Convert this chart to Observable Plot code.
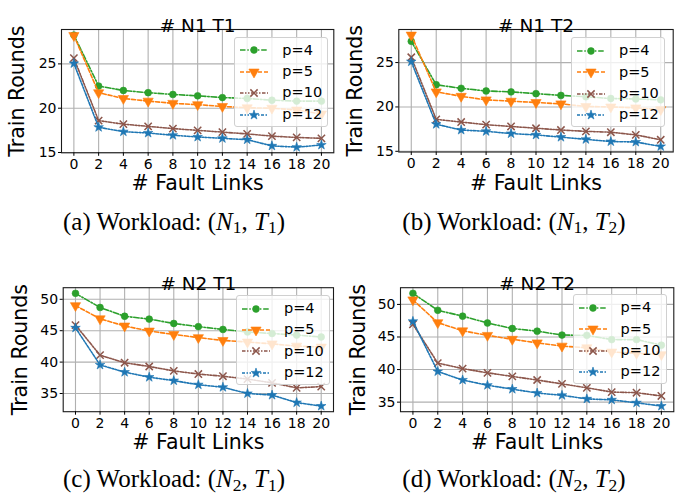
<!DOCTYPE html>
<html>
<head>
<meta charset="utf-8">
<script src="https://cdn.jsdelivr.net/npm/d3@7"></script>
<script src="https://cdn.jsdelivr.net/npm/@observablehq/plot@0.6"></script>
<style>
  html, body { margin: 0; padding: 0; background: #fff; }
  #root { position: relative; width: 681px; height: 494px; overflow: hidden; background: #fff; }
  .panel { position: absolute; }
  .panel svg { overflow: visible; }
  .legend {
    position: absolute; box-sizing: border-box; width: 94px; height: 90px;
    background: rgba(255,255,255,0.8); border: 1px solid #d0d0d0; border-radius: 3px;
    font-family: "DejaVu Sans", sans-serif; font-size: 14.5px; color: #000;
    padding-top: 2px;
  }
  .legend .row { position: relative; height: 21.4px; }
  .legend .row svg { position: absolute; left: 4px; top: 3.7px; overflow: visible; }
  .legend .row span { position: absolute; left: 47px; top: 1px; line-height: 19px; }
  .caption {
    position: absolute; width: 340px; text-align: center;
    font-family: "Liberation Serif", "Times New Roman", serif; font-size: 25px; color: #000;
    white-space: nowrap; line-height: 26px;
  }
  .caption sub { font-size: 70%; vertical-align: baseline; position: relative; top: 0.22em; }
</style>
</head>
<body>
<div id="root"></div>
<script>
// ---------- data ----------
const faultLinks = [0, 2, 4, 6, 8, 10, 12, 14, 16, 18, 20];
const xTicks = [0, 2, 4, 6, 8, 10, 12, 14, 16, 18, 20];
const yTicksN1 = [15, 20, 25];
const yTicksN2 = [35, 40, 45, 50];
const seriesLabels = ["p=4", "p=5", "p=10", "p=12"];
const panelTitles = ["# N1 T1", "# N1 T2", "# N2 T1", "# N2 T2"];
const captionLetters = ["(a)", "(b)", "(c)", "(d)"];
const captionN = ["1", "1", "2", "2"];
const captionT = ["1", "2", "1", "2"];

const n1t1_p4  = [28.25, 22.5, 22.0, 21.75, 21.55, 21.4, 21.2, 21.1, 20.9, 20.8, 20.8];
const n1t1_p5  = [28.2, 21.75, 21.1, 20.8, 20.55, 20.4, 20.2, 20.05, 20.0, 19.8, 19.35];
const n1t1_p10 = [25.65, 18.6, 18.2, 17.95, 17.7, 17.5, 17.3, 17.1, 16.85, 16.7, 16.6];
const n1t1_p12 = [25.05, 17.85, 17.35, 17.2, 16.95, 16.75, 16.6, 16.45, 15.75, 15.6, 15.85];

const n1t2_p4  = [27.4, 22.5, 22.1, 21.8, 21.7, 21.5, 21.3, 21.15, 20.95, 20.9, 20.8];
const n1t2_p5  = [28.1, 21.7, 21.2, 20.8, 20.65, 20.5, 20.35, 20.05, 20.0, 19.9, 19.7];
const n1t2_p10 = [25.6, 18.6, 18.3, 18.0, 17.8, 17.6, 17.4, 17.25, 17.15, 16.85, 16.3];
const n1t2_p12 = [25.1, 18.05, 17.4, 17.25, 17.0, 16.85, 16.6, 16.35, 16.1, 16.05, 15.55];

const n2t1_p4  = [50.95, 48.7, 47.3, 46.85, 46.15, 45.65, 45.2, 44.8, 44.55, 44.3, 44.0];
const n2t1_p5  = [49.0, 46.9, 45.75, 44.95, 44.4, 43.9, 43.45, 43.2, 42.9, 42.55, 42.4];
const n2t1_p10 = [45.9, 41.1, 39.9, 39.3, 38.6, 38.1, 37.75, 37.3, 36.7, 35.9, 36.1];
const n2t1_p12 = [45.45, 39.55, 38.4, 37.6, 37.05, 36.4, 36.0, 35.0, 34.75, 33.55, 33.0];

const n2t2_p4  = [51.7, 49.1, 48.2, 47.15, 46.3, 45.9, 45.3, 45.25, 44.6, 44.6, 43.75];
const n2t2_p5  = [50.7, 47.2, 45.95, 45.25, 44.65, 44.1, 43.6, 43.35, 42.7, 42.5, 42.3];
const n2t2_p10 = [46.95, 41.0, 40.15, 39.5, 38.95, 38.4, 37.8, 37.2, 36.55, 36.45, 35.95];
const n2t2_p12 = [47.4, 39.7, 38.4, 37.6, 37.0, 36.4, 36.05, 35.5, 35.35, 34.9, 34.4];

// ---------- styling ----------
const seriesColors = ["#2ca02c", "#ff7f0e", "#8c564b", "#1f77b4"];
const seriesDash = ["5.5,1.8,1.5,1.8", "4,2", "3.5,1.5,1.5,1.5,1.5,1.5", "3,1.5,1.5,1.5,1.5,1.5"];
const seriesSymbol = ["circle", "triangle", "times", "star"];
const seriesRotate = [0, 180, 0, 0];
const seriesR = [3.4, 3.8, 3.4, 3.0];
const d3Symbols = { circle: d3.symbolCircle, triangle: d3.symbolTriangle, times: d3.symbolTimes, star: d3.symbolStar };

const panels = [
  { data: [n1t1_p4, n1t1_p5, n1t1_p10, n1t1_p12], yTicks: yTicksN1, left: 0, top: 0, width: 340,
    ml: 61, mr: 6.7, mt: 29, mb: 47.7, ylabX: 16.5, legRight: 5, legTop: 7.7 },
  { data: [n1t2_p4, n1t2_p5, n1t2_p10, n1t2_p12], yTicks: yTicksN1, left: 340, top: 0, width: 341,
    ml: 58.3, mr: 8.3, mt: 29, mb: 48.5, ylabX: 15, legRight: 7.7, legTop: 8.3 },
  { data: [n2t1_p4, n2t1_p5, n2t1_p10, n2t1_p12], yTicks: yTicksN2, left: 0, top: 257.5, width: 340,
    ml: 62.7, mr: 7, mt: 29.2, mb: 46.8, ylabX: 19.5, legRight: 3, legTop: 8.3 },
  { data: [n2t2_p4, n2t2_p5, n2t2_p10, n2t2_p12], yTicks: yTicksN2, left: 340, top: 257.5, width: 341,
    ml: 60, mr: 7.7, mt: 29.2, mb: 46.8, ylabX: 18, legRight: 6.7, legTop: 7.6 }
];

const root = document.getElementById("root");
const svgHeight = 200;

panels.forEach((p, k) => {
  const all = p.data.flat();
  const lo = d3.min(all), hi = d3.max(all), pad = (hi - lo) * 0.05;
  const marks = [
    Plot.gridX(xTicks, { stroke: "#b0b0b0", strokeOpacity: 1, strokeWidth: 1.1 }),
    Plot.gridY(p.yTicks, { stroke: "#b0b0b0", strokeOpacity: 1, strokeWidth: 1.1 })
  ];
  p.data.forEach((vals, i) => {
    marks.push(Plot.line(vals, { x: faultLinks, y: d => d, stroke: seriesColors[i], strokeWidth: 1.6, strokeDasharray: seriesDash[i] }));
    const dotOpts = { x: faultLinks, y: d => d, symbol: seriesSymbol[i], r: seriesR[i], rotate: seriesRotate[i] };
    if (seriesSymbol[i] === "times") Object.assign(dotOpts, { stroke: seriesColors[i], strokeWidth: 1.5, fill: "none" });
    else Object.assign(dotOpts, { fill: seriesColors[i], stroke: seriesColors[i], strokeWidth: 0.6 });
    marks.push(Plot.dot(vals, dotOpts));
  });
  marks.push(
    Plot.frame({ stroke: "#1a1a1a", strokeWidth: 1.1 }),
    Plot.axisX({ ticks: xTicks, tickSize: 3.5, tickPadding: 2.5, fontSize: 14, label: null, stroke: "#000" }),
    Plot.axisY({ ticks: p.yTicks, tickSize: 3, tickPadding: 2, fontSize: 14, label: null, stroke: "#000" }),
    Plot.text([panelTitles[k]], { frameAnchor: "top", dy: -11, fontSize: 18.5, fill: "#000" }),
    Plot.text(["# Fault Links"], { frameAnchor: "bottom", dy: 37.5, fontSize: 20.5, fill: "#000" }),
    Plot.text(["Train Rounds"], { frameAnchor: "left", textAnchor: "middle", dx: p.ylabX - p.ml, rotate: -90, fontSize: 20.5, fill: "#000" })
  );
  const chart = Plot.plot({
    width: p.width, height: svgHeight,
    marginLeft: p.ml, marginRight: p.mr, marginTop: p.mt, marginBottom: p.mb,
    x: { domain: [-1, 21] },
    y: { domain: [lo - pad, hi + pad] },
    style: { fontFamily: "DejaVu Sans, sans-serif", fontSize: "14px", color: "#000", background: "transparent" },
    marks
  });
  const div = document.createElement("div");
  div.className = "panel";
  div.style.left = p.left + "px";
  div.style.top = p.top + "px";
  div.style.width = p.width + "px";
  div.style.height = "236px";
  div.appendChild(chart);

  // legend
  const leg = document.createElement("div");
  leg.className = "legend";
  leg.style.right = (p.mr + p.legRight) + "px";
  leg.style.top = (p.mt + p.legTop) + "px";
  seriesLabels.forEach((lab, i) => {
    const row = document.createElement("div");
    row.className = "row";
    const s = d3.create("svg").attr("width", 30).attr("height", 14);
    s.append("line").attr("x1", 1).attr("x2", 29).attr("y1", 7).attr("y2", 7)
      .attr("stroke", seriesColors[i]).attr("stroke-width", 1.6).attr("stroke-dasharray", seriesDash[i]);
    const path = d3.symbol().type(d3Symbols[seriesSymbol[i]]).size(Math.PI * seriesR[i] * seriesR[i])();
    const m = s.append("path").attr("d", path).attr("transform", `translate(15,7) rotate(${seriesRotate[i]})`);
    if (seriesSymbol[i] === "times") m.attr("fill", "none").attr("stroke", seriesColors[i]).attr("stroke-width", 1.5);
    else m.attr("fill", seriesColors[i]).attr("stroke", seriesColors[i]).attr("stroke-width", 0.6);
    row.appendChild(s.node());
    const t = document.createElement("span");
    t.textContent = lab;
    row.appendChild(t);
    leg.appendChild(row);
  });
  div.appendChild(leg);

  // caption
  const cap = document.createElement("div");
  cap.className = "caption";
  cap.style.left = "4px";
  cap.style.top = "208.5px";
  cap.innerHTML = `${captionLetters[k]} Workload: (<i>N</i><sub>${captionN[k]}</sub>, <i>T</i><sub>${captionT[k]}</sub>)`;
  div.appendChild(cap);

  root.appendChild(div);
});
</script>
</body>
</html>
